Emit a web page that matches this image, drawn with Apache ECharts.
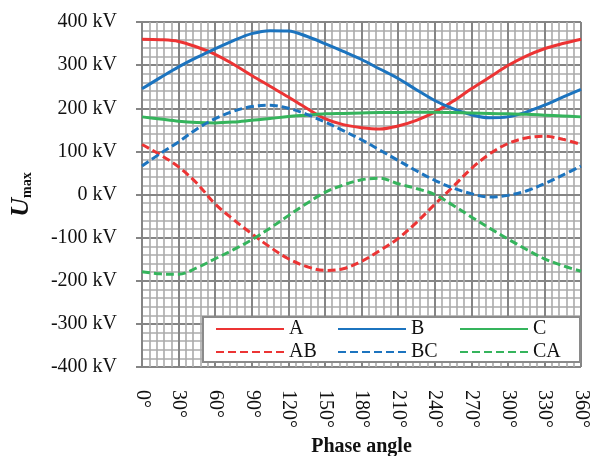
<!DOCTYPE html>
<html><head><meta charset="utf-8">
<script src="https://cdn.jsdelivr.net/npm/echarts@6/dist/echarts.min.js"></script>
<style>html,body{margin:0;padding:0;background:#fff}#c{width:591px;height:456px}</style>
</head><body><div id="c"></div>
<script>
var angles = [0,15,30,45,60,75,90,105,120,135,150,165,180,195,210,225,240,255,270,285,300,315,330,345,360];
var A  = [360,359,355,342,325,302,276,251,226,200,176,162,155,152,159,172,191,216,245,272,299,321,338,350,360];
var B  = [245,271,296,318,338,357,373,380,379,367,350,332,313,291,269,243,218,199,185,178,180,191,207,226,244];
var C  = [180,175,170,167,166,168,172,176,181,184,187,188,189,190,190,191,191,190,189,188,187,186,184,182,180];
var AB = [116,92,64,26,-22,-58,-91,-122,-149,-167,-176,-172,-155,-130,-102,-65,-23,18,60,94,118,131,135,128,116];
var BC = [66,95,122,152,176,193,204,207,200,186,168,148,127,103,79,55,33,15,2,-6,-2,8,25,45,66];
var CA = [-179,-184,-185,-170,-149,-128,-105,-78,-49,-21,5,22,34,38,25,14,0,-25,-52,-78,-103,-127,-149,-165,-178];
var seriesNames = ['A','B','C','AB','BC','CA'];
var xTicks = {min:0, max:360, step:30};
var yTicks = {min:-400, max:400, step:100};

var RED='#ec3434', BLUE='#1c74bf', GREEN='#35b45c';
var FONT='"Liberation Serif","Times New Roman",serif';
function mk(name, data, color, dashed){
  return {name:name, type:'line', smooth:0.35, symbol:'none', showSymbol:false,
    data: angles.map(function(a,i){return [a,data[i]];}),
    lineStyle:{color:color, width:3, type: dashed?[8,4]:'solid'},
    itemStyle:{color:color}};
}
var chart = echarts.init(document.getElementById('c'), null, {renderer:'canvas'});
chart.setOption({
  animation:false,
  backgroundColor:'#fff',
  grid:{left:142,right:10,top:22,bottom:89,containLabel:false,outerBoundsMode:'none'},
  legend:{
    data:seriesNames, left:203, top:317, width:380,
    backgroundColor:'#fff', borderColor:'#8a8a8a', borderWidth:2, borderRadius:0,
    padding:[2,2,0,12], itemWidth:68, itemHeight:14, itemGap:3,
    itemStyle:{opacity:0},
    formatter:function(n){return '{t|'+n+'}';},
    textStyle:{fontFamily:FONT, fontSize:20, color:'#111',
      rich:{t:{fontFamily:FONT, fontSize:20, color:'#111', width:45, lineHeight:20}}}
  },
  xAxis:{type:'value', min:xTicks.min, max:xTicks.max, interval:xTicks.step,
    axisLine:{show:true, lineStyle:{color:'#858585', width:2}},
    axisTick:{show:true, length:6, lineStyle:{color:'#858585', width:2}},
    minorTick:{show:false, splitNumber:5},
    splitLine:{show:true, lineStyle:{color:'#858585', width:2}},
    minorSplitLine:{show:true, lineStyle:{color:'#ababab', width:1.6}},
    axisLabel:{rotate:-90, margin:23, fontFamily:FONT, fontSize:20, color:'#111',
      formatter:function(v){return v+'°';}},
    name:'Phase angle', nameLocation:'middle', nameGap:70,
    nameTextStyle:{fontFamily:FONT, fontSize:20, fontWeight:'bold', color:'#111'}
  },
  yAxis:{type:'value', min:yTicks.min, max:yTicks.max, interval:yTicks.step,
    axisLine:{show:true, lineStyle:{color:'#858585', width:2}},
    axisTick:{show:true, length:6, lineStyle:{color:'#858585', width:2}},
    minorTick:{show:false, splitNumber:5},
    splitLine:{show:true, lineStyle:{color:'#858585', width:2}},
    minorSplitLine:{show:true, lineStyle:{color:'#ababab', width:1.6}},
    axisLabel:{margin:25, fontFamily:FONT, fontSize:20, color:'#111',
      formatter:function(v){return v+' kV';}},
    name:'{u|U}{m|max}', nameLocation:'middle', nameGap:108,
    nameTextStyle:{rich:{
      u:{fontFamily:FONT, fontSize:26, fontWeight:'bold', fontStyle:'italic', color:'#111', lineHeight:26},
      m:{fontFamily:FONT, fontSize:14, fontWeight:'bold', color:'#111', verticalAlign:'bottom', lineHeight:20}
    }}
  },
  series:[mk('A',A,RED,false), mk('B',B,BLUE,false), mk('C',C,GREEN,false),
          mk('AB',AB,RED,true), mk('BC',BC,BLUE,true), mk('CA',CA,GREEN,true)]
});
</script></body></html>
